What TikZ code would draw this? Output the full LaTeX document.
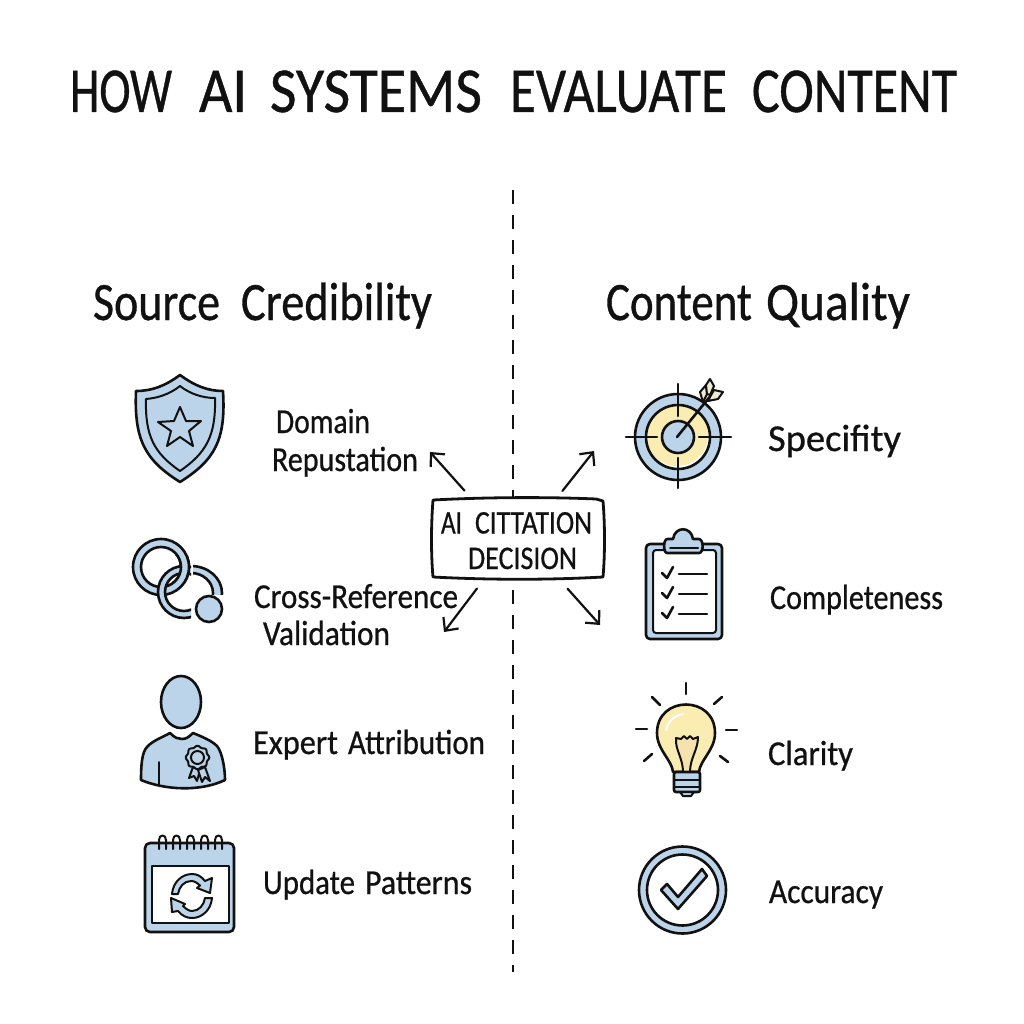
\documentclass[tikz,border=0pt]{standalone}
\usepackage{fontspec}
\usepackage{graphicx}
\setmainfont{Carlito}
\newfontface\inkfont{Carlito}[FakeBold=0.7]
\usetikzlibrary{arrows.meta}
\definecolor{iconblue}{HTML}{BCD4E9}
\definecolor{bulbyellow}{HTML}{FBEDB2}
\definecolor{filamentyellow}{HTML}{F6E2AC}
\definecolor{feather}{HTML}{F1EBD6}
\definecolor{inkblack}{HTML}{111111}
\newcommand{\fitw}[3]{\resizebox{#1pt}{\height}{\fontsize{#2pt}{#2pt}\inkfont #3}}
\tikzset{
  lab/.style={anchor=base west,inner sep=0pt,outer sep=0pt,text=inkblack},
  ink/.style={draw=inkblack,line width=2.6pt,line join=round,line cap=round},
  thinink/.style={draw=inkblack,line width=2pt,line join=round,line cap=round},
  bluefill/.style={ink,fill=iconblue},
  whitefill/.style={ink,fill=white},
  arr/.style={draw=inkblack,line width=2.2pt,line cap=round,-{Straight Barb[length=10pt,width=19pt,line width=2.2pt]}},
  divider/.style={draw=inkblack,line width=2.2pt,dash pattern=on 14pt off 11pt},
  boxnode/.style={fill=white,minimum width=171pt,minimum height=79pt,inner sep=0pt}
}
\begin{document}
\begin{tikzpicture}[x=1pt,y=-1pt]
\useasboundingbox (0,0) rectangle (1024,1024);
\fill[color=white] (0,0) rectangle (1024,1024);

% title and headings
\node[lab] (title) at (70,112) {\fitw{102}{64}{HOW}\hspace{27pt}\fitw{48}{64}{AI}\hspace{23pt}\fitw{212}{64}{SYSTEMS}\hspace{28pt}\fitw{217}{64}{EVALUATE}\hspace{25pt}\fitw{205}{64}{CONTENT}};
\node[lab] (hleft) at (93,320) {\fitw{127}{54}{Source}\hspace{21pt}\fitw{191}{54}{Credibility}};
\node[lab] (hright) at (606,320) {\fitw{146}{54}{Content}\hspace{14pt}\fitw{144}{54}{Quality}};

% divider
\coordinate (divtop) at (513,190);
\coordinate (divbot) at (513,972);
\draw[divider] (divtop) -- (divbot);

% centre box
\node[boxnode] (box) at (518.5,538.5) {};
\draw[draw=inkblack,line width=2.8pt,line join=round]
  (433,500) .. controls (490,497) and (550,497) .. (596,499) -- (603,501)
  .. controls (605,525) and (605,555) .. (603,577)
  .. controls (550,580) and (490,580) .. (433,577)
  .. controls (431,555) and (431,525) .. (433,500) -- cycle;
\node[lab] (boxa) at (441,533.5) {\fitw{21}{33}{AI}\hspace{13pt}\fitw{117}{33}{CITTATION}};
\node[lab] (boxb) at (468,569) {\fitw{109}{33}{DECISION}};

% arrows
\coordinate (tl) at (430,452);
\coordinate (tr) at (594,451);
\coordinate (bl) at (444,632);
\coordinate (br) at (600,625);
\draw[arr,shorten <=11pt] ([xshift=39pt]box.north west) -- (tl);
\draw[arr,shorten <=10pt] ([xshift=-48pt]box.north east) -- (tr);
\draw[arr,shorten <=13pt] ([xshift=52pt]box.south west) -- (bl);
\draw[arr,shorten <=14pt] ([xshift=-46pt]box.south east) -- (br);

% left labels
\node[lab] (l1a) at (276,433) {\fitw{94}{35}{Domain}};
\node[lab] (l1b) at (272,471) {\fitw{146}{35}{Repustation}};
\node[lab] (l2a) at (254,608) {\fitw{204}{35}{Cross-Reference}};
\node[lab] (l2b) at (263,645) {\fitw{127}{35}{Validation}};
\node[lab] (l3) at (253,754) {\fitw{85}{35}{Expert}\hspace{10pt}\fitw{137}{35}{Attribution}};
\node[lab] (l4) at (263,894) {\fitw{92}{35}{Update}\hspace{10pt}\fitw{107}{35}{Patterns}};
% right labels
\node[lab] (r1) at (768,451) {\fitw{133}{38}{Specifity}};
\node[lab] (r2) at (770,609) {\fitw{173}{35}{Completeness}};
\node[lab] (r3) at (768,765) {\fitw{85}{35}{Clarity}};
\node[lab] (r4) at (769,903) {\fitw{114}{35}{Accuracy}};

% shield
\path[bluefill] (180,375) .. controls (165,386) and (152,391) .. (136,391)
  .. controls (134,440) and (145,460) .. (180,482)
  .. controls (215,460) and (226,440) .. (223,391)
  .. controls (208,391) and (195,386) .. (180,375) -- cycle;
\path[thinink,draw] (180,386) .. controls (170,394) and (158,398) .. (146,399)
  .. controls (145,436) and (154,453) .. (180,471)
  .. controls (206,453) and (216,436) .. (215,398)
  .. controls (203,398) and (190,394) .. (180,386) -- cycle;
\path[thinink,draw] (180,407) -- (186,421) -- (201,421) -- (189,431) -- (193,446)
  -- (180,437) -- (167,446) -- (171,431) -- (158,422) -- (174,421) -- cycle;

% linked rings
\path[bluefill,even odd rule] (161,567) circle[radius=28] (161,567) circle[radius=20];
\begin{scope}
  \clip (140,550) rectangle (191,630);
  \path[bluefill,even odd rule] (184,592) circle[radius=26] (184,592) circle[radius=19];
\end{scope}
\begin{scope}
  \clip (172,555) rectangle (195,582);
  \path[bluefill,even odd rule] (161,567) circle[radius=28] (161,567) circle[radius=20];
\end{scope}
\begin{scope}
  \clip (193,560) rectangle (230,594);
  \path[bluefill,even odd rule] (191,593) ellipse[x radius=31,y radius=27] (191,593) ellipse[x radius=22,y radius=20];
\end{scope}
\path[bluefill] (209,609) circle[radius=13];

% person
\path[bluefill] (141,780) .. controls (141,765) and (142,752) .. (147,747)
  .. controls (152,741) and (163,737) .. (170,733)
  .. controls (175,738) and (178,739) .. (182,739)
  .. controls (186,739) and (189,737) .. (193,733)
  .. controls (203,737) and (212,741) .. (217,746)
  .. controls (222,752) and (225,768) .. (225,780)
  .. controls (200,792) and (165,790) .. (141,780) -- cycle;
\path[bluefill] (181,702) ellipse[x radius=20,y radius=26];
\draw[thinink] (159,762) -- (159,785);
\path[thinink,fill=iconblue] (193,767) -- (189,778) -- (194,776) -- (197,781) -- (200,770) -- cycle;
\path[thinink,fill=iconblue] (198,770) -- (202,782) -- (205,777) -- (210,781) -- (205,767) -- cycle;
\draw[thinink,fill=iconblue] plot[smooth cycle,samples=48,domain=0:352.5] ({197.5+(11+0.8*cos(8*\x))*cos(\x)},{757.5+(11+0.8*cos(8*\x))*sin(\x)});
\path[thinink,draw] (197.5,757.5) circle[radius=6.5];

% calendar
\path[bluefill,rounded corners=5pt] (145,843) rectangle (234,932);
\path[whitefill] (152,866) rectangle (229,923);
\foreach \cx in {163,177,191,205,219}{
  \draw[thinink] (\cx-4,849) -- (\cx-4,840) .. controls (\cx-4,834) and (\cx+3,834) .. (\cx+3,840) -- (\cx+3,849);
}
\path[thinink,fill=iconblue] (172,894) .. controls (173,882) and (182,874) .. (192,874)
  .. controls (197,874) and (201,876) .. (205,881) -- (212,878) -- (210,893) -- (197,888) -- (200,885.5)
  .. controls (197,883) and (195,881) .. (191,881) .. controls (184,881) and (179,887) .. (178,894) -- cycle;
\path[thinink,fill=iconblue] (212,898) .. controls (211,910) and (202,918) .. (192,918)
  .. controls (187,918) and (182,916) .. (178,911) -- (172,912) -- (171,898) -- (185,904) -- (183,906)
  .. controls (186,909) and (189,911) .. (192,911) .. controls (199,911) and (204,905) .. (205,898) -- cycle;

% target
\path[bluefill] (678,437) circle[radius=43];
\fill[color=white] (678,437) circle[radius=32];
\fill[bulbyellow] (677,435) circle[radius=31];
\draw[ink] (678,437) circle[radius=32];
\path[ink,fill=iconblue] (678,437) circle[radius=16];
\draw[ink] (678,384) -- (678,416);
\draw[ink] (678,458) -- (678,488);
\draw[ink] (626,437) -- (657,437);
\draw[ink] (699,437) -- (731,437);
\draw[ink] (677,437) -- (712,394);
\path[thinink,fill=feather] (703,402) -- (700,392) -- (706,385) -- (707,394) -- cycle;
\path[thinink,fill=feather] (707,394) -- (706,385) -- (710,379) -- (714,386) -- (710,395) -- cycle;
\path[thinink,fill=feather] (710,397) -- (714,390) -- (723,392) -- (718,399) -- (708,401) -- cycle;

% clipboard
\path[bluefill,rounded corners=4pt] (646,544) rectangle (722,639);
\path[thinink,fill=white,rounded corners=3pt] (653,550) rectangle (716,633);
\path[bluefill] (667,553) .. controls (663,553) and (663,538) .. (668,539) -- (673,539)
  .. controls (675,526) and (691,526) .. (693,539) -- (698,539)
  .. controls (704,538) and (704,553) .. (699,553) -- cycle;
\draw[thinink] (670,548) -- (698,548);
\foreach \ly in {574,594,614}{
  \draw[ink] (662,\ly-1) -- (667,\ly+4) -- (673,\ly-7);
  \draw[ink] (679,\ly) -- (707,\ly);
}

% bulb
\path[ink,fill=bulbyellow] (673,772) .. controls (672,760) and (657,750) .. (657,733)
  .. controls (657,695) and (715,695) .. (715,733)
  .. controls (715,750) and (700,760) .. (699,772) -- cycle;
\path[thinink,fill=filamentyellow] (683,772) .. controls (683,758) and (675,750) .. (676,738)
  -- (681,739) -- (684,736) -- (687,739) -- (690,736) -- (693,739) -- (698,737)
  .. controls (698,750) and (690,758) .. (690,772) -- cycle;
\draw[color=white,line width=2pt,line cap=round] (666,730) .. controls (668,722) and (673,716) .. (683,714);
\path[ink,fill=iconblue,rounded corners=2pt] (674,772) rectangle (700,792);
\draw[thinink] (674,780) -- (700,780);
\draw[thinink] (674,787) -- (700,787);
\path[thinink,fill=iconblue] (680,792) -- (683,796) -- (691,796) -- (694,792) -- cycle;
\draw[ink] (686,683) -- (686,694);
\draw[ink] (652,697) -- (660,705);
\draw[ink] (722,697) -- (714,704);
\draw[ink] (636,729) -- (647,729);
\draw[ink] (726,730) -- (737,730);
\draw[ink] (644,761) -- (652,754);
\draw[ink] (728,762) -- (720,756);

% accuracy badge
\path[bluefill] (682.5,890) circle[radius=43.5];
\path[whitefill] (682.5,890) circle[radius=35.5];
\path[bluefill] (661,890) -- (667,884) -- (678,897) -- (702,869) -- (707,876) -- (678,909) -- cycle;
\end{tikzpicture}
\end{document}
